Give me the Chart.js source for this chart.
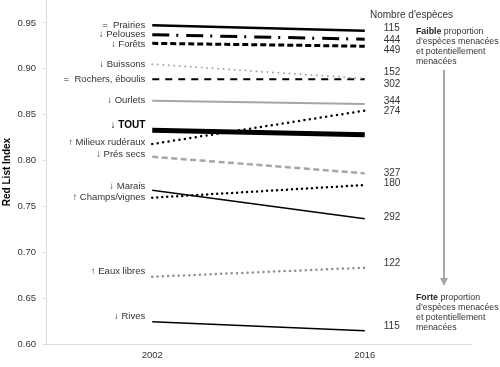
<!DOCTYPE html>
<html>
<head>
<meta charset="utf-8">
<script src="https://cdn.jsdelivr.net/npm/chart.js@4/dist/chart.umd.min.js"></script>
<style>
  html, body { margin: 0; padding: 0; background: #fff; }
  #wrap { width: 500px; height: 367px; }
</style>
</head>
<body>
<div id="wrap"><canvas id="rli"></canvas></div>
<script>
const years = ['2002', '2016'];
const habitats = ['Prairies', 'Pelouses', 'Forêts', 'Buissons', 'Rochers, éboulis', 'Ourlets', 'TOUT',
  'Milieux rudéraux', 'Prés secs', 'Marais', 'Champs/vignes', 'Eaux libres', 'Rives'];
const trends = ['=', '↓', '↓', '↓', '=', '↓', '↓', '↑', '↓', '↓', '↑', '↑', '↓'];
const rli2002 = [0.9475, 0.9372, 0.9278, 0.9050, 0.8886, 0.8653, 0.8330, 0.8180, 0.8042, 0.7676, 0.7595, 0.6733, 0.6243];
const rli2016 = [0.9416, 0.9322, 0.9246, 0.8893, 0.8886, 0.8617, 0.8282, 0.8544, 0.7860, 0.7366, 0.7733, 0.6832, 0.6145];
const speciesCount = ['115', '444', '449', '152', '302', '344', '', '274', '327', '292', '180', '122', '115'];

// line looks + small vertical nudges (px) for the side labels
const styles = [
  { color: '#000', width: 2.5, dash: [] },
  { color: '#000', width: 3, dash: [17, 7, 2, 8] },
  { color: '#000', width: 3, dash: [6, 3] },
  { color: '#a6a6a6', width: 2, dash: [0, 5.5], cap: 'round' },
  { color: '#000', width: 2, dash: [7, 6] },
  { color: '#a6a6a6', width: 2, dash: [] },
  { color: '#000', width: 5, dash: [] },
  { color: '#000', width: 2.5, dash: [0, 5.5], cap: 'round' },
  { color: '#a6a6a6', width: 2.5, dash: [6, 3.5] },
  { color: '#000', width: 1.5, dash: [] },
  { color: '#000', width: 2.5, dash: [0, 5], cap: 'round' },
  { color: '#8c8c8c', width: 2.5, dash: [0, 5.3], cap: 'round' },
  { color: '#000', width: 1.5, dash: [] }
];
const leftDy = [0, 0, 1, 0, 0, 0, -5, -2, -2, -4, 0, -5, -5];
const rightDy = [-2, 1, 4, -6, 5, -3, 0, 1, 0, -1, -2, -4, -4];

const FONT = '"Liberation Sans", Arial, sans-serif';

const sideText = {
  id: 'sideText',
  afterDraw(chart) {
    const ctx = chart.ctx;
    const xs = chart.scales.x, ys = chart.scales.y;
    const xl = xs.getPixelForValue(0) - 7;
    const xr = xs.getPixelForValue(1) + 19;
    ctx.save();
    ctx.textBaseline = 'middle';
    habitats.forEach((h, i) => {
      const yl = ys.getPixelForValue(rli2002[i]) + leftDy[i];
      ctx.fillStyle = '#333';
      ctx.textAlign = 'right';
      if (h === 'TOUT') {
        ctx.font = 'bold 10px ' + FONT;
        ctx.fillStyle = '#000';
        ctx.fillText('↓ TOUT', xl, yl);
      } else {
        ctx.font = '9.5px ' + FONT;
        ctx.fillText(trends[i] + (trends[i] === '=' ? '  ' : ' ') + h, xl, yl);
      }
      if (speciesCount[i]) {
        ctx.font = '10px ' + FONT;
        ctx.textAlign = 'left';
        ctx.fillStyle = '#333';
        ctx.fillText(speciesCount[i], xr, ys.getPixelForValue(rli2016[i]) + rightDy[i]);
      }
    });

    ctx.textAlign = 'left';
    ctx.font = '10px ' + FONT;
    ctx.fillText("Nombre d'espèces", 370, 15);

    const note = (first, yTop) => {
      ctx.font = 'bold 8.8px ' + FONT;
      ctx.fillStyle = '#222';
      ctx.fillText(first, 416, yTop);
      const w = ctx.measureText(first + ' ').width;
      ctx.font = '8.8px ' + FONT;
      ctx.fillStyle = '#333';
      ctx.fillText('proportion', 416 + w, yTop);
      ctx.fillText("d’espèces menacées", 416, yTop + 10);
      ctx.fillText('et potentiellement', 416, yTop + 20);
      ctx.fillText('menacées', 416, yTop + 30);
    };
    note('Faible', 32);
    note('Forte', 298);

    // gray arrow between the two notes
    ctx.strokeStyle = '#a6a6a6';
    ctx.fillStyle = '#a6a6a6';
    ctx.lineWidth = 2;
    ctx.beginPath();
    ctx.moveTo(444, 70);
    ctx.lineTo(444, 279);
    ctx.stroke();
    ctx.beginPath();
    ctx.moveTo(440, 278);
    ctx.lineTo(448, 278);
    ctx.lineTo(444, 286);
    ctx.closePath();
    ctx.fill();
    ctx.restore();
  }
};

new Chart(document.getElementById('rli'), {
  type: 'line',
  data: {
    labels: years,
    datasets: habitats.map((h, i) => ({
      label: h,
      data: [rli2002[i], rli2016[i]],
      borderColor: styles[i].color,
      borderWidth: styles[i].width,
      borderDash: styles[i].dash,
      borderCapStyle: styles[i].cap || 'butt',
      pointRadius: 0,
      tension: 0,
      fill: false
    }))
  },
  options: {
    responsive: true,
    maintainAspectRatio: false,
    animation: false,
    layout: { padding: { top: 0, right: 29, left: 0, bottom: 0 } },
    plugins: { legend: { display: false }, tooltip: { enabled: false } },
    scales: {
      x: {
        offset: true,
        grid: { display: true, drawOnChartArea: false, tickLength: 0, color: '#d9d9d9' },
        border: { color: '#d9d9d9', width: 1 },
        ticks: { color: '#333', font: { family: FONT, size: 9.5 }, padding: 6 },
        afterFit: s => { s.height = 23; s.paddingLeft = 0; s.paddingRight = 0; }
      },
      y: {
        min: 0.6,
        max: 0.975,
        grid: { display: true, drawOnChartArea: false, tickLength: 3, color: '#d9d9d9' },
        border: { color: '#d9d9d9', width: 1 },
        ticks: { stepSize: 0.05, color: '#333', font: { family: FONT, size: 9.5 }, padding: 7,
          callback: v => v.toFixed(2) },
        afterBuildTicks: s => { s.ticks = s.ticks.filter(t => Math.abs(t.value * 20 - Math.round(t.value * 20)) < 1e-6); },
        title: { display: true, text: 'Red List Index', color: '#000',
          font: { family: FONT, size: 10, weight: 'bold' }, padding: { top: 1, bottom: 0 } },
        afterFit: s => { s.width = 46; s.paddingTop = 0; s.paddingBottom = 0; }
      }
    }
  },
  plugins: [sideText]
});
</script>
</body>
</html>
